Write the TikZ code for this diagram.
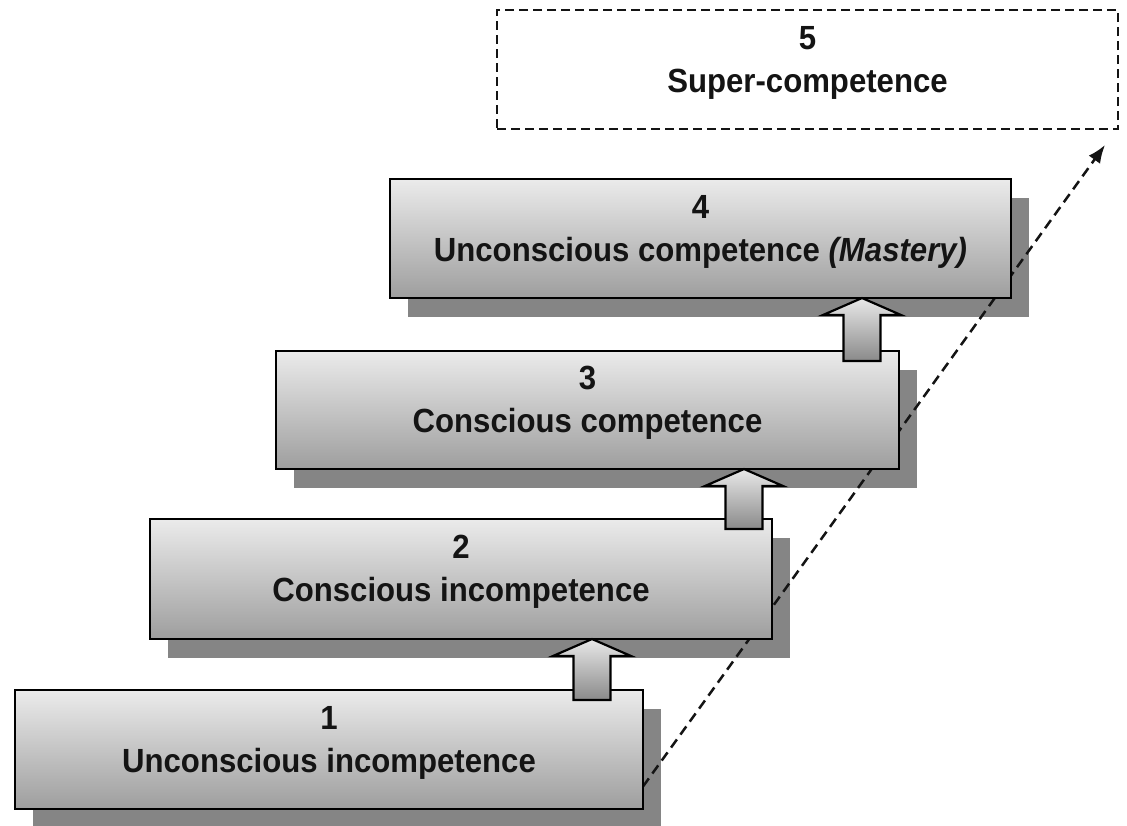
\documentclass[tikz,border=0pt]{standalone}
\usepackage{fontspec}
\newfontfamily\boxfont[FakeStretch=0.93]{Liberation Sans}
\usetikzlibrary{calc,arrows.meta}
\definecolor{boxtop}{HTML}{EBEBEB}
\definecolor{boxmid}{HTML}{D9D9D9}
\definecolor{boxbot}{HTML}{9E9E9E}
\definecolor{shadowgray}{HTML}{858585}
\definecolor{arrtop}{HTML}{E8E8E8}
\definecolor{arrbot}{HTML}{8A8A8A}
\definecolor{inkc}{HTML}{141414}
\pgfdeclarelayer{shadowlayer}
\pgfdeclarelayer{linelayer}
\pgfsetlayers{shadowlayer,linelayer,main}
\tikzset{
  stagefont/.style={font=\boxfont\bfseries\fontsize{33.5}{43}\selectfont, text=inkc,
    align=center, text height=67pt, text depth=22pt},
  stage/.style={stagefont, draw=black, line width=2.5pt, inner sep=0pt, outer sep=0pt,
    top color=boxtop, middle color=boxmid, bottom color=boxbot},
  futurestage/.style={stagefont, draw=inkc, line width=2.4pt, dash pattern=on 9pt off 5pt,
    inner sep=0pt, outer sep=0pt},
  stageshadow/.style={fill=shadowgray},
  blockarrow/.style={draw=black, line width=2.2pt, line join=miter,
    top color=arrtop, bottom color=arrbot},
  trend/.style={draw=inkc, line width=2.5pt, dash pattern=on 10pt off 6pt,
    -{Latex[length=18pt,width=14pt]}}
}
\newcommand\blockup[3]{%
  \draw[blockarrow] let \p1=(#1,0 |- #3.south), \p2=(#1,0 |- #2.north) in
    (\x1,\y1) -- (\x1+39pt,\y1-17pt) -- (\x1+18.5pt,\y1-17pt) -- (\x1+18.5pt,\y2-10pt)
    -- (\x1-18.5pt,\y2-10pt) -- (\x1-18.5pt,\y1-17pt) -- (\x1-39pt,\y1-17pt) -- cycle;}
\begin{document}
\begin{tikzpicture}[x=1pt,y=-1pt]
\begin{pgfonlayer}{shadowlayer}
  \fill[white] (0,0) rectangle (1127,825);
\end{pgfonlayer}
\useasboundingbox (0,0) rectangle (1127,825);
% stages
\node[stage, minimum width=628pt, minimum height=119pt] (b1) at (329,749.5)
  {1\\Unconscious incompetence};
\node[stage, minimum width=622pt, minimum height=120pt] (b2) at (461,579)
  {2\\Conscious incompetence};
\node[stage, minimum width=623pt, minimum height=118pt] (b3) at (587.5,410)
  {3\\Conscious competence};
\node[stage, minimum width=621pt, minimum height=119pt] (b4) at (700.5,238.5)
  {4\\Unconscious competence \textit{(Mastery)}};
\node[futurestage, minimum width=621pt, minimum height=119pt] (b5) at (807.5,69.5)
  {5\\Super-competence};
% shadows
\begin{pgfonlayer}{shadowlayer}
  \foreach \b in {b1,b2,b3,b4}
    \fill[stageshadow] ([xshift=18pt,yshift=-19pt]\b.south west)
      rectangle ([xshift=18pt,yshift=-19pt]\b.north east);
\end{pgfonlayer}
% dashed trend line
\coordinate (ds) at ([yshift=-37pt]b1.east);
\coordinate (de) at ([xshift=-13pt,yshift=-16pt]b5.south east);
\begin{pgfonlayer}{linelayer}
  \draw[trend] (ds) -- (de);
\end{pgfonlayer}
% block arrows
\blockup{592}{b1}{b2}
\blockup{744}{b2}{b3}
\blockup{862}{b3}{b4}
\end{tikzpicture}
\end{document}
